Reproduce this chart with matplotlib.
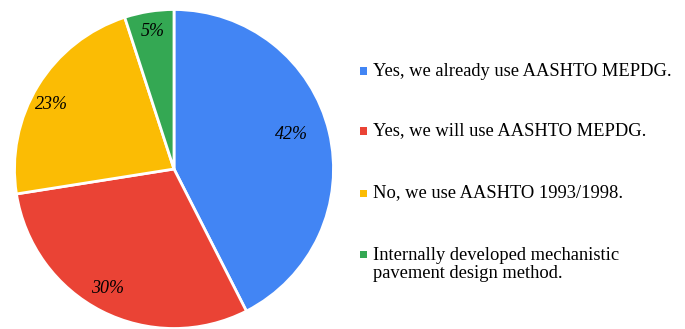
#Import necessary libraries
import numpy as np
import matplotlib
matplotlib.use('Agg')
import matplotlib.pyplot as plt
from matplotlib.patches import Rectangle

#Chart data
answers = ['Yes, we already use AASHTO MEPDG.',
           'Yes, we will use AASHTO MEPDG.',
           'No, we use AASHTO 1993/1998.',
           'Internally developed mechanistic\npavement design method.']
shares = [42.5, 30.0, 22.5, 5.0]
pct_labels = ['42%', '30%', '23%', '5%']
colors = ['#4285F4', '#EA4335', '#FBBC04', '#34A853']

plt.rcParams['font.family'] = ['Liberation Serif', 'DejaVu Serif']

fig = plt.figure(figsize=(6.85, 3.29), dpi=100)

#Pie axes, sized so the circle sits left with center near (174,169) px
W, H = 685., 329.
cx, cy, r = 174., 169., 159.5
ax = fig.add_axes([(cx - r) / W, (H - cy - r) / H, 2 * r / W, 2 * r / H])
wedges, texts = ax.pie(shares, colors=colors, startangle=90, counterclock=False,
                       radius=1.0, wedgeprops=dict(edgecolor='white', linewidth=2))
ax.set_xlim(-1, 1)
ax.set_ylim(-1, 1)
ax.set_aspect('auto')
ax.axis('off')

#Percent labels placed inside each wedge
dist = [0.77, 0.86, 0.87, 0.87]
shift = [3, -2, 3.6, 0]
for w, lab, d, s in zip(wedges, pct_labels, dist, shift):
    mid = np.radians((w.theta1 + w.theta2) / 2 + s)
    ax.text(d * np.cos(mid), d * np.sin(mid), lab, ha='center', va='center',
            fontsize=13, style='italic')

#Legend drawn by hand: square marker + label
ys = [71, 131, 193, 254]
for lab, col, y in zip(answers, colors, ys):
    fig.add_artist(Rectangle((360 / W, (H - y - 3.5) / H), 7 / W, 7 / H,
                             transform=fig.transFigure, facecolor=col, edgecolor='none'))
    if '\n' in lab:
        fig.text(373 / W, (H - y + 7) / H, lab, ha='left', va='top',
                 fontsize=13.3, linespacing=1.05)
    else:
        fig.text(373 / W, (H - y) / H, lab, ha='left', va='center', fontsize=13.3)

fig.savefig('out.png', dpi=100)
